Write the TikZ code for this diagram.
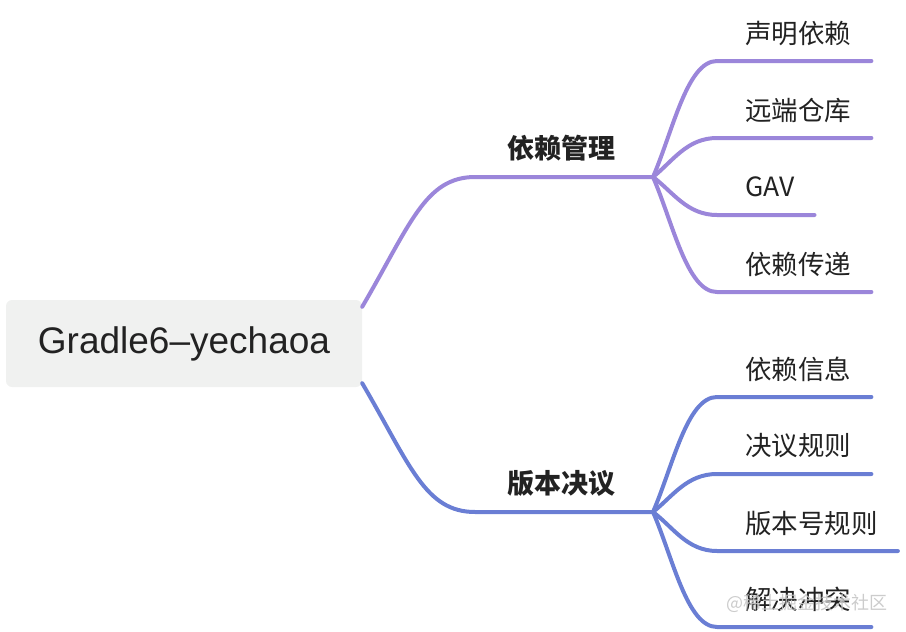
\documentclass[tikz,border=0pt]{standalone}
\usepackage{fontspec}
\setmainfont{Noto Sans CJK SC}
\newfontfamily\rootfont{Liberation Sans}
\usepackage{xcolor}
\definecolor{upc}{HTML}{9B86DA}
\definecolor{lowc}{HTML}{6A7ED4}
\definecolor{rootbg}{HTML}{F0F1F0}
\definecolor{txt}{HTML}{222222}
\tikzset{
  root/.style={fill=rootbg, rounded corners=6pt, minimum width=356pt, minimum height=87pt, text=txt, font=\rootfont\fontsize{37}{40}\selectfont},
  mid/.style={text=txt, font=\fontsize{27}{30}\selectfont\bfseries, inner sep=0pt},
  leaf/.style={text=txt, font=\fontsize{26.5}{30}\selectfont, inner sep=0pt, anchor=west},
  wm/.style={text=gray!45, font=\fontsize{18}{20}\selectfont, inner sep=0pt, opacity=0.9},
  up/.style={draw=upc, line width=4pt, line cap=round},
  low/.style={draw=lowc, line width=4pt, line cap=round}
}
\begin{document}
\begin{tikzpicture}[x=1pt, y=-1pt]
            \useasboundingbox (0,0) rectangle (906,632);
            \path
            (184, 343.5) node[root](g) {Gradle6–yechaoa}
            (561, 148) node[mid](dep) {依赖管理}
            (561, 483) node[mid](ver) {版本决议}
            (745, 33) node[leaf](l1) {声明依赖}
            (745, 110) node[leaf](l2) {远端仓库}
            (745, 187) node[leaf](l3) {GAV}
            (745, 264) node[leaf](l4) {依赖传递}
            (745, 369) node[leaf](l5) {依赖信息}
            (745, 446) node[leaf](l6) {决议规则}
            (745, 523) node[leaf](l7) {版本号规则}
            (745, 599) node[leaf](l8) {解决冲突};
            \coordinate (b1) at (475, 177);
            \coordinate (j1) at (653, 177);
            \coordinate (b2) at (475, 512);
            \coordinate (j2) at (653, 512);

            \draw[up] ([yshift=-7pt]g.north east) .. controls +(48,-82) and +(-50,0) .. (b1) -- (j1);
            \draw[low] ([yshift=4pt]g.south east) .. controls +(48,82) and +(-50,0) .. (b2) -- (j2);
            \draw[up] (j1) .. controls +(20,-46) and +(-30,0) .. ([shift={(-28,28)}]l1.west) -- ([shift={(20,28)}]l1.east);
            \draw[up] (j1) .. controls +(20,-16) and +(-30,0) .. ([shift={(-28,28)}]l2.west) -- ([shift={(20,28)}]l2.east);
            \draw[up] (j1) .. controls +(20,15) and +(-30,0) .. ([shift={(-28,28)}]l3.west) -- ([shift={(20,28)}]l3.east);
            \draw[up] (j1) .. controls +(20,46) and +(-30,0) .. ([shift={(-28,28)}]l4.west) -- ([shift={(20,28)}]l4.east);
            \draw[low] (j2) .. controls +(20,-46) and +(-30,0) .. ([shift={(-28,28)}]l5.west) -- ([shift={(20,28)}]l5.east);
            \draw[low] (j2) .. controls +(20,-16) and +(-30,0) .. ([shift={(-28,28)}]l6.west) -- ([shift={(20,28)}]l6.east);
            \draw[low] (j2) .. controls +(20,15) and +(-30,0) .. ([shift={(-28,28)}]l7.west) -- ([shift={(20,28)}]l7.east);
            \draw[low] (j2) .. controls +(20,46) and +(-30,0) .. ([shift={(-28,28)}]l8.west) -- ([shift={(20,28)}]l8.east);

            \node[wm] (mark1) at (807, 603) {@稀土掘金技术社区};
\end{tikzpicture}
\end{document}
